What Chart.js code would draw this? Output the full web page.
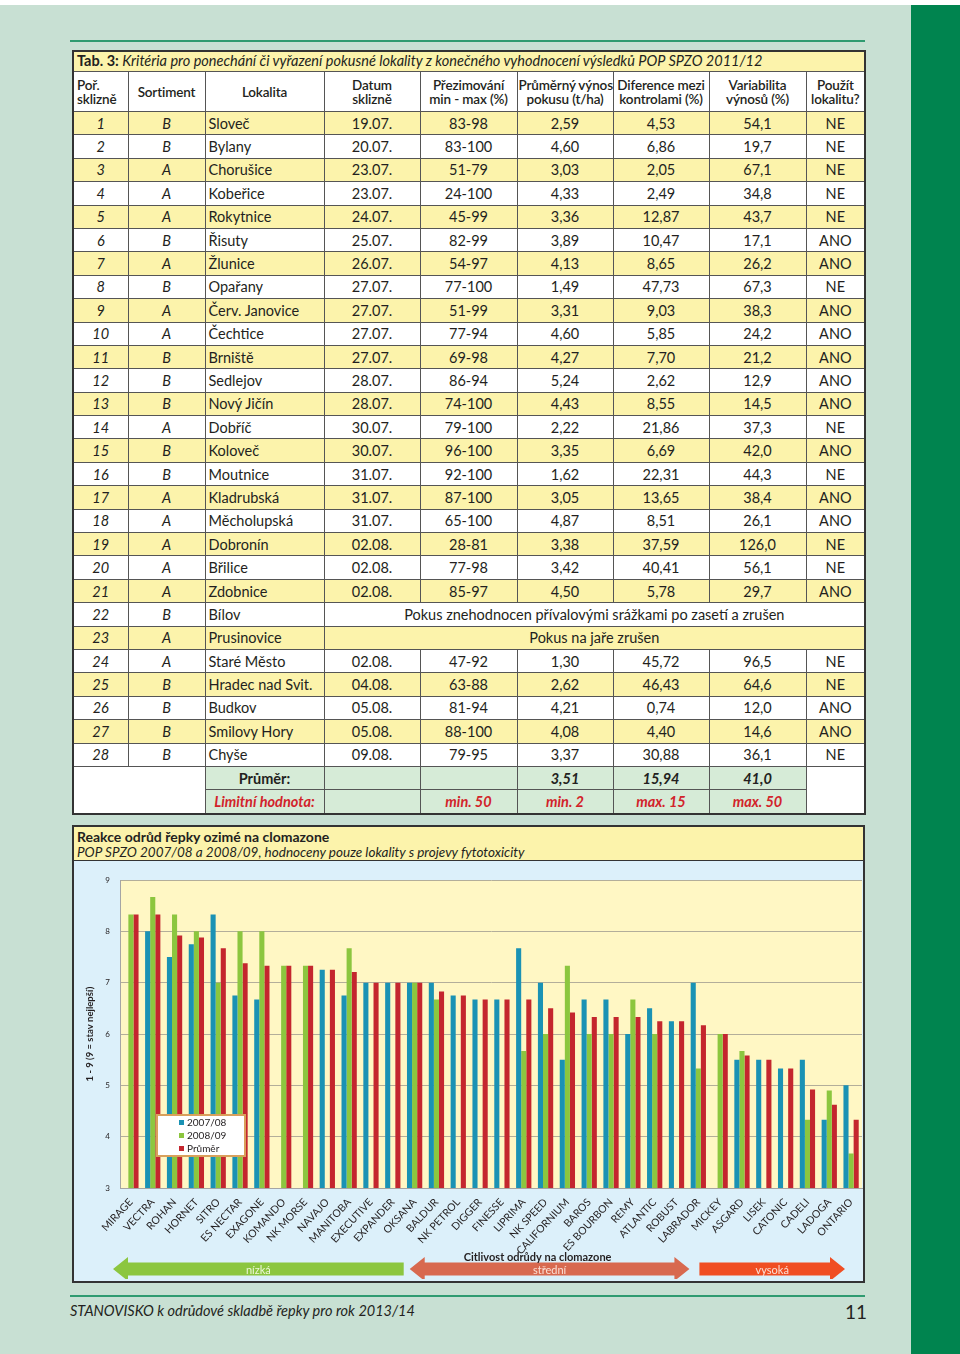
<!DOCTYPE html>
<html lang="cs">
<head>
<meta charset="utf-8">
<script src="https://cdn.jsdelivr.net/npm/chart.js@4.4.1/dist/chart.umd.min.js"></script>
<style>
  body { margin:0; background:#fff; font-family:Lato, "Noto Sans", sans-serif; color:#231f20; }
  #page { position:absolute; left:0; top:5px; width:911px; height:1349px; background:#c8e0d3; }
  #stripe { position:absolute; left:911px; top:5px; width:49px; height:1349px; background:#00844f; }
  .hline { position:absolute; left:70px; width:795px; height:2px; background:#2f9b70; }
  #tab { position:absolute; left:72px; top:50px; width:793px; border-collapse:collapse; border:2px solid #333; table-layout:fixed; font-size:14.5px; }
  #tab td { border:1px solid #555; padding:0 3px; text-align:center; height:22.4px; white-space:nowrap; line-height:15px; }
  #tab td.l { text-align:left; }
  #tab td.i { font-style:italic; }
  #tab tr.y td { background:#fcf3ab; }
  #tab tr.w td { background:#fff; }
  #tab tr.hd td { background:#fff; font-weight:600; height:39px; line-height:14px; font-size:13.5px; padding:0 1px; letter-spacing:-0.15px; }
  #tab tr.hd td.l { padding-left:3px; }
  #tab tr.tt td { background:#fcf3ab; text-align:left; height:18px; line-height:16px; font-style:italic; font-size:14.5px; padding-bottom:1px; }
  #tab td.g { background:#d6ebd7; font-weight:bold; font-style:italic; }
  #tab td.r { color:#d2232a; }
  #tab td.bl { background:#fff; }
  #graf { position:absolute; left:72px; top:825px; width:789px; height:454px; border:2px solid #333; background:#dcf0fa; }
  #grafTitle { height:34px; background:#fcf3ab; border-bottom:1.5px solid #333; padding:2px 0 0 3px; box-sizing:border-box; font-size:14px; line-height:15px; }
  #grafTitle i { font-size:13.5px; }
  #myChart { display:block; }
  #footer { position:absolute; left:70px; top:1302px; font-style:italic; font-size:14.5px; }
  #strana { position:absolute; left:845px; top:1300px; font-size:19px; }
</style>
</head>
<body>
<div id="page"></div>
<div id="stripe"></div>
<div class="hline" style="top:40px"></div>
<table id="tab"></table>
<div id="graf">
  <div id="grafTitle"><b>Reakce odrůd řepky ozimé na clomazone</b><br><i>POP SPZO 2007/08 a 2008/09, hodnoceny pouze lokality s projevy fytotoxicity</i></div>
  <canvas id="myChart" width="789" height="418"></canvas>
</div>
<div class="hline" style="top:1295px"></div>
<div id="footer">STANOVISKO k odrůdové skladbě řepky pro rok 2013/14</div>
<div id="strana">11</div>
<script>
// tabulka 3
const sortiment = ['B','B','A','A','A','B','A','B','A','A','B','B','B','A','B','B','A','A','A','A','A','B','A','A','B','B','B','B'];
const lokality = ['Sloveč','Bylany','Chorušice','Kobeřice','Rokytnice','Řisuty','Žlunice','Opařany','Červ. Janovice','Čechtice','Brniště','Sedlejov','Nový Jičín','Dobříč','Koloveč','Moutnice','Kladrubská','Měcholupská','Dobronín','Břilice','Zdobnice','Bílov','Prusinovice','Staré Město','Hradec nad Svit.','Budkov','Smilovy Hory','Chyše'];
const datum = ['19.07.','20.07.','23.07.','23.07.','24.07.','25.07.','26.07.','27.07.','27.07.','27.07.','27.07.','28.07.','28.07.','30.07.','30.07.','31.07.','31.07.','31.07.','02.08.','02.08.','02.08.',null,null,'02.08.','04.08.','05.08.','05.08.','09.08.'];
const prezimovani = ['83-98','83-100','51-79','24-100','45-99','82-99','54-97','77-100','51-99','77-94','69-98','86-94','74-100','79-100','96-100','92-100','87-100','65-100','28-81','77-98','85-97',null,null,'47-92','63-88','81-94','88-100','79-95'];
const vynos = ['2,59','4,60','3,03','4,33','3,36','3,89','4,13','1,49','3,31','4,60','4,27','5,24','4,43','2,22','3,35','1,62','3,05','4,87','3,38','3,42','4,50',null,null,'1,30','2,62','4,21','4,08','3,37'];
const diference = ['4,53','6,86','2,05','2,49','12,87','10,47','8,65','47,73','9,03','5,85','7,70','2,62','8,55','21,86','6,69','22,31','13,65','8,51','37,59','40,41','5,78',null,null,'45,72','46,43','0,74','4,40','30,88'];
const variabilita = ['54,1','19,7','67,1','34,8','43,7','17,1','26,2','67,3','38,3','24,2','21,2','12,9','14,5','37,3','42,0','44,3','38,4','26,1','126,0','56,1','29,7',null,null,'96,5','64,6','12,0','14,6','36,1'];
const pouzit = ['NE','NE','NE','NE','NE','ANO','ANO','NE','ANO','ANO','ANO','ANO','ANO','NE','ANO','NE','ANO','ANO','NE','NE','ANO',null,null,'NE','NE','ANO','ANO','NE'];
const poznamky = {22:'Pokus znehodnocen přívalovými srážkami po zasetí a zrušen', 23:'Pokus na jaře zrušen'};
const prumerRadek = ['', '', '3,51', '15,94', '41,0'];
const limitRadek = ['', 'min. 50', 'min. 2', 'max. 15', 'max. 50'];

// graf - reakce odrud na clomazone
const odrudy = ['MIRAGE','VECTRA','ROHAN','HORNET','SITRO','ES NECTAR','EXAGONE','KOMANDO','NK MORSE','NAVAJO','MANITOBA','EXECUTIVE','EXPANDER','OKSANA','BALDUR','NK PETROL','DIGGER','FINESSE','LIPRIMA','NK SPEED','CALIFORNIUM','BAROS','ES BOURBON','REMY','ATLANTIC','ROBUST','LABRADOR','MICKEY','ASGARD','LISEK','CATONIC','CADELI','LADOGA','ONTARIO'];
const rok0708 = [null,8.0,7.5,7.75,8.33,6.75,6.67,null,null,7.25,6.75,7.0,7.0,7.0,7.0,6.75,6.67,6.67,7.67,7.0,5.5,6.67,6.67,6.0,6.5,6.25,7.0,null,5.5,5.5,5.33,5.5,4.33,5.0];
const rok0809 = [8.33,8.67,8.33,8.0,7.0,8.0,8.0,7.33,7.33,null,7.67,null,null,7.0,6.67,null,null,null,5.67,6.0,7.33,6.0,6.0,6.67,6.0,null,5.33,6.0,5.67,null,null,4.33,4.9,3.67];
const prumer = [8.33,8.33,7.92,7.88,7.67,7.38,7.33,7.33,7.33,7.25,7.21,7.0,7.0,7.0,6.83,6.75,6.67,6.67,6.67,6.5,6.42,6.33,6.33,6.33,6.25,6.25,6.17,6.0,5.58,5.5,5.33,4.92,4.62,4.33];
const citlivost = ['nízká','střední','vysoká'];
const citlivostOd = [0, 13, 26];
const citlivostDo = [13, 26, 34];

function tabulka() {
  const t = document.getElementById('tab');
  let h = '<colgroup><col style="width:55px"><col style="width:77px"><col style="width:119px"><col style="width:96px"><col style="width:97px"><col style="width:96px"><col style="width:96px"><col style="width:97px"><col style="width:59px"></colgroup>';
  h += '<tr class="tt"><td colspan="9"><b style="font-style:normal">Tab. 3:</b> Kritéria pro ponechání či vyřazení pokusné lokality z konečného vyhodnocení výsledků POP SPZO 2011/12</td></tr>';
  h += '<tr class="hd"><td class="l">Poř.<br>sklizně</td><td>Sortiment</td><td>Lokalita</td><td>Datum<br>sklizně</td><td>Přezimování<br>min - max (%)</td><td>Průměrný výnos<br>pokusu (t/ha)</td><td>Diference mezi<br>kontrolami (%)</td><td>Variabilita<br>výnosů (%)</td><td>Použít<br>lokalitu?</td></tr>';
  lokality.forEach((lok, i) => {
    const cls = i % 2 === 0 ? 'y' : 'w';
    h += `<tr class="${cls}"><td class="i">${i + 1}</td><td class="i">${sortiment[i]}</td><td class="l">${lok}</td>`;
    if (poznamky[i + 1]) {
      h += `<td colspan="6">${poznamky[i + 1]}</td>`;
    } else {
      h += `<td>${datum[i]}</td><td>${prezimovani[i]}</td><td>${vynos[i]}</td><td>${diference[i]}</td><td>${variabilita[i]}</td><td>${pouzit[i]}</td>`;
    }
    h += '</tr>';
  });
  h += '<tr><td class="bl" colspan="2" rowspan="2"></td><td class="g" style="font-style:normal">Průměr:</td>' +
       prumerRadek.map(v => `<td class="g">${v}</td>`).join('') + '<td class="bl" rowspan="2"></td></tr>';
  h += '<tr><td class="g r">Limitní hodnota:</td>' + limitRadek.map(v => `<td class="g r">${v}</td>`).join('') + '</tr>';
  t.innerHTML = h;
}
tabulka();

const pozadiPlugin = {
  id: 'pozadi',
  beforeDraw(chart) {
    const c = chart.ctx, a = chart.chartArea;
    c.save();
    c.fillStyle = '#dcf0fa';
    c.fillRect(0, 0, chart.width, chart.height);
    c.fillStyle = '#fff7c4';
    c.fillRect(a.left, a.top, a.right - a.left, a.bottom - a.top);
    c.restore();
  }
};

const legendaPlugin = {
  id: 'legenda',
  afterDraw(chart) {
    const c = chart.ctx, a = chart.chartArea, y = chart.scales.y;
    const x0 = a.left + 37, y0 = y.getPixelForValue(4.5) + 4;
    c.save();
    c.fillStyle = '#fff';
    c.fillRect(x0, y0, 88, 41);
    c.strokeStyle = '#d9a05b';
    c.lineWidth = 2;
    c.strokeRect(x0, y0, 88, 41);
    c.font = '10px Lato';
    c.textBaseline = 'middle';
    chart.data.datasets.forEach((ds, i) => {
      const ty = y0 + 8 + i * 13;
      c.fillStyle = ds.backgroundColor;
      c.fillRect(x0 + 22, ty - 3, 5, 5);
      c.fillStyle = '#231f20';
      c.fillText(ds.label, x0 + 30, ty);
    });
    c.restore();
  }
};

function sipka(c, x1, x2, cy, vlevo, vpravo, barva) {
  const b = 6.5, hh = 12, hl = 15;
  c.beginPath();
  if (vlevo) {
    c.moveTo(x1, cy);
    c.lineTo(x1 + hl, cy - hh);
    c.lineTo(x1 + hl, cy - b);
  } else {
    c.moveTo(x1, cy - b);
  }
  if (vpravo) {
    c.lineTo(x2 - hl, cy - b);
    c.lineTo(x2 - hl, cy - hh);
    c.lineTo(x2, cy);
    c.lineTo(x2 - hl, cy + hh);
    c.lineTo(x2 - hl, cy + b);
  } else {
    c.lineTo(x2, cy - b);
    c.lineTo(x2, cy + b);
  }
  if (vlevo) {
    c.lineTo(x1 + hl, cy + b);
    c.lineTo(x1 + hl, cy + hh);
  } else {
    c.lineTo(x1, cy + b);
  }
  c.closePath();
  c.fillStyle = barva;
  c.fill();
}

const sipkyPlugin = {
  id: 'sipky',
  afterDraw(chart) {
    const c = chart.ctx, x = chart.scales.x;
    const krok = (x.right - x.left) / odrudy.length;
    const hrana = i => x.left + krok * i;
    const cy = 408;
    const barvy = ['#8cc63f', '#d8694f', '#f04e23'];
    const okraj = [[-7, 0], [6, 2], [12, -17]];
    const hlavy = [[true, false], [true, true], [false, true]];
    c.save();
    citlivost.forEach((txt, k) => {
      const x1 = hrana(citlivostOd[k]) + okraj[k][0];
      const x2 = hrana(citlivostDo[k]) + okraj[k][1];
      sipka(c, x1, x2, cy, hlavy[k][0], hlavy[k][1], barvy[k]);
      c.font = '11px Lato';
      c.textAlign = 'center';
      c.textBaseline = 'middle';
      c.fillStyle = k === 0 ? '#eef7d8' : '#fbe0d6';
      c.fillText(txt, (x1 + x2) / 2, cy + 1);
    });
    c.font = 'bold 11px Lato';
    c.fillStyle = '#231f20';
    c.textAlign = 'center';
    c.textBaseline = 'middle';
    c.fillText('Citlivost odrůdy na clomazone', (hrana(13) + hrana(26)) / 2 - 8, cy - 12);
    // popis osy y
    c.translate(16, (chart.chartArea.top + chart.chartArea.bottom) / 2);
    c.rotate(-Math.PI / 2);
    c.font = 'bold 9.5px Lato';
    c.fillText('1 - 9 (9 = stav nejlepší)', 0, 0);
    c.restore();
  }
};

const ctx = document.getElementById('myChart').getContext('2d');
const myChart = new Chart(ctx, {
  type: 'bar',
  data: {
    labels: odrudy,
    datasets: [
      { label: '2007/08', data: rok0708, backgroundColor: '#1a92b4' },
      { label: '2008/09', data: rok0809, backgroundColor: '#8cc63f' },
      { label: 'Průměr', data: prumer, backgroundColor: '#c4262e' }
    ]
  },
  options: {
    responsive: false,
    animation: false,
    datasets: { bar: { categoryPercentage: 0.7, barPercentage: 1 } },
    layout: { padding: { top: 19, right: 1, left: 0, bottom: 0 } },
    plugins: { legend: { display: false }, tooltip: { enabled: false } },
    scales: {
      x: {
        grid: { display: false, drawTicks: false },
        border: { color: '#a5a5a5' },
        ticks: { autoSkip: false, minRotation: 47, maxRotation: 47, padding: 8, color: '#231f20', font: { family: 'Lato', size: 10.5 } },
        afterFit(s) { s.height = 91; s.paddingLeft = 0; s.paddingRight = 0; }
      },
      y: {
        min: 3, max: 9,
        grid: { color: '#b3ae9a', drawTicks: false },
        border: { color: '#a5a5a5' },
        ticks: { stepSize: 1, padding: 10, color: '#231f20', font: { family: 'Lato', size: 8 } },
        afterFit(s) { s.width = 46; }
      }
    }
  },
  plugins: [pozadiPlugin, legendaPlugin, sipkyPlugin]
});
</script>
</body>
</html>
